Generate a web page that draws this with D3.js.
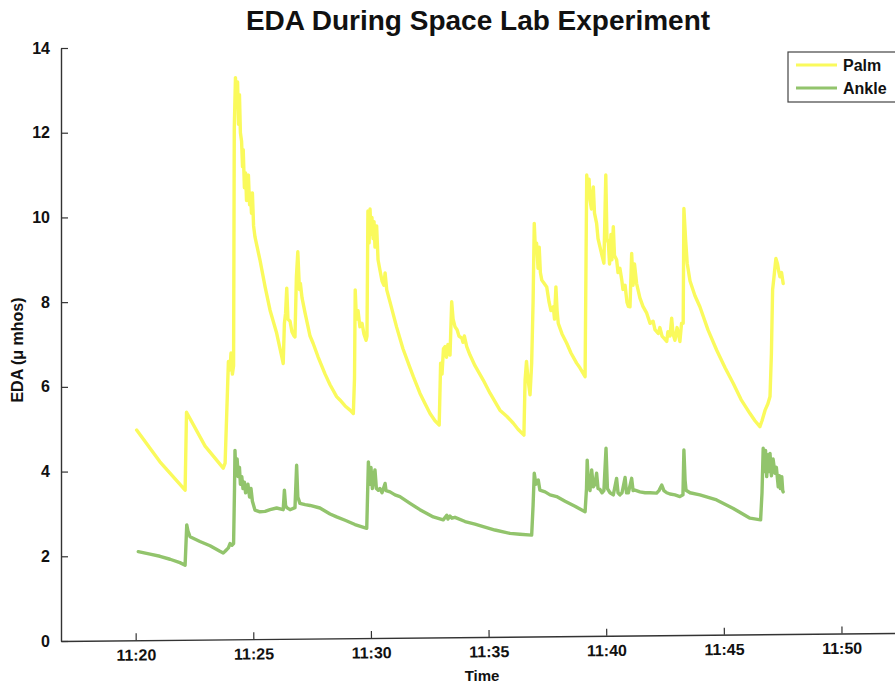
<!DOCTYPE html>
<html>
<head>
<meta charset="utf-8">
<script src="https://cdn.jsdelivr.net/npm/d3@7"></script>
<style>
  html, body { margin: 0; padding: 0; background: #fff; }
  svg { display: block; font-family: "Liberation Sans", Arial, Helvetica, sans-serif; }
</style>
</head>
<body>
<svg id="chart" width="895" height="686"></svg>
<script>
// ---- Data (time in minutes after 11:00, EDA in micro-mhos) ----
const titleText = "EDA During Space Lab Experiment";
const xLabel = "Time";
const yLabel = "EDA (\u03bc mhos)";
const seriesNames = ["Palm", "Ankle"];
const seriesColors = ["#fafa5c", "#92c46c"];
const yTicks = [0, 2, 4, 6, 8, 10, 12, 14];
const xTickMinutes = [20, 25, 30, 35, 40, 45, 50];

const palm = [
[20.04,4.98],[21.03,4.23],[22.10,3.56],[22.16,5.40],[22.95,4.6],[23.72,4.08],[23.80,4.2],[23.90,5.9],[23.94,6.6],[24.01,6.4],[24.05,6.8],[24.11,6.3],[24.16,6.5],[24.19,12.1],[24.24,13.3],[24.28,12.6],[24.33,13.2],[24.37,12.2],[24.41,12.9],[24.45,12.0],[24.50,11.8],[24.54,11.2],[24.57,11.6],[24.62,10.7],[24.67,11.05],[24.71,10.4],[24.75,10.8],[24.79,11.0],[24.84,10.3],[24.88,10.58],[24.92,10.1],[24.96,10.58],[25.01,9.8],[25.07,9.54],[25.28,9.0],[25.50,8.36],[25.71,7.81],[25.99,7.27],[26.21,6.71],[26.27,6.55],[26.32,7.5],[26.37,7.74],[26.42,8.33],[26.47,7.6],[26.56,7.55],[26.64,7.3],[26.73,7.2],[26.77,7.18],[26.83,8.6],[26.89,9.19],[26.92,8.8],[26.96,8.3],[27.00,8.44],[27.07,8.1],[27.20,7.74],[27.41,7.2],[27.54,7.03],[27.75,6.71],[28.05,6.3],[28.26,6.05],[28.54,5.77],[28.68,5.69],[28.90,5.55],[29.11,5.45],[29.25,5.37],[29.30,6.2],[29.33,8.29],[29.38,7.6],[29.45,7.8],[29.53,7.42],[29.62,7.5],[29.70,7.25],[29.79,7.1],[29.83,7.2],[29.87,10.15],[29.92,9.4],[29.96,10.2],[30.00,9.6],[30.04,10.0],[30.09,9.5],[30.13,9.9],[30.17,9.3],[30.24,9.8],[30.30,9.0],[30.38,8.76],[30.47,8.5],[30.55,8.4],[30.60,8.69],[30.67,8.29],[30.81,8.0],[31.09,7.41],[31.36,6.9],[31.66,6.45],[31.80,6.24],[32.08,5.85],[32.30,5.6],[32.51,5.37],[32.72,5.2],[32.90,5.10],[32.96,6.56],[33.02,6.3],[33.08,6.9],[33.15,6.95],[33.21,6.7],[33.27,7.0],[33.36,6.75],[33.43,8.01],[33.49,7.6],[33.57,7.42],[33.66,7.35],[33.74,7.2],[33.86,7.15],[33.91,7.05],[33.97,7.2],[34.07,6.95],[34.21,6.75],[34.42,6.5],[34.77,6.16],[35.06,5.85],[35.48,5.45],[35.78,5.3],[36.05,5.14],[36.25,5.0],[36.50,4.86],[36.55,6.16],[36.61,6.6],[36.67,6.2],[36.76,5.81],[36.83,6.56],[36.89,8.0],[36.94,9.86],[36.99,9.2],[37.04,9.39],[37.10,8.8],[37.15,9.3],[37.20,8.7],[37.26,8.52],[37.35,8.45],[37.47,8.36],[37.57,8.0],[37.65,7.8],[37.75,7.89],[37.80,7.6],[37.86,8.36],[37.91,7.8],[37.96,7.5],[38.12,7.25],[38.32,7.03],[38.50,6.8],[38.74,6.56],[38.88,6.45],[39.10,6.24],[39.17,11.0],[39.22,10.6],[39.27,10.9],[39.31,10.41],[39.37,10.2],[39.45,10.72],[39.50,10.1],[39.59,9.86],[39.65,9.5],[39.73,9.31],[39.82,9.1],[39.90,8.92],[39.98,11.0],[40.03,9.5],[40.09,9.39],[40.14,8.9],[40.20,9.6],[40.24,9.0],[40.30,9.78],[40.35,9.1],[40.44,9.0],[40.50,8.7],[40.58,8.8],[40.66,8.52],[40.71,8.3],[40.80,8.4],[40.88,8.0],[40.94,7.9],[41.01,7.89],[41.08,9.15],[41.14,8.4],[41.20,8.9],[41.29,8.44],[41.43,8.1],[41.56,7.9],[41.72,7.74],[41.86,7.5],[41.99,7.55],[42.07,7.35],[42.21,7.26],[42.28,7.4],[42.37,7.2],[42.45,7.15],[42.57,7.07],[42.62,7.3],[42.71,7.2],[42.78,7.62],[42.84,7.25],[42.92,7.1],[43.01,7.4],[43.13,7.07],[43.20,7.5],[43.27,7.5],[43.30,10.21],[43.37,9.5],[43.44,8.92],[43.56,8.5],[43.77,8.15],[43.98,7.89],[44.32,7.35],[44.69,6.87],[45.05,6.45],[45.40,6.08],[45.73,5.7],[46.11,5.37],[46.32,5.2],[46.53,5.06],[46.62,5.2],[46.75,5.45],[46.87,5.6],[46.96,5.77],[47.02,6.8],[47.07,8.29],[47.13,8.6],[47.21,9.03],[47.28,8.9],[47.34,8.7],[47.38,8.6],[47.45,8.7],[47.52,8.44]
];

const ankle = [
[20.11,2.11],[20.61,2.05],[21.03,2.00],[21.46,1.93],[21.88,1.85],[22.10,1.79],[22.17,2.74],[22.22,2.6],[22.31,2.46],[22.73,2.35],[23.16,2.25],[23.58,2.12],[23.72,2.08],[23.80,2.12],[23.94,2.2],[24.01,2.3],[24.09,2.26],[24.16,2.3],[24.20,3.6],[24.22,4.5],[24.26,3.9],[24.31,4.3],[24.36,3.88],[24.41,4.1],[24.45,3.7],[24.51,3.88],[24.56,3.6],[24.62,3.75],[24.67,3.5],[24.72,3.56],[24.77,3.7],[24.84,3.4],[24.90,3.6],[24.96,3.3],[25.07,3.09],[25.28,3.05],[25.50,3.06],[25.71,3.1],[25.99,3.14],[26.27,3.1],[26.32,3.56],[26.37,3.2],[26.42,3.15],[26.56,3.1],[26.77,3.15],[26.84,4.15],[26.89,3.4],[26.98,3.25],[27.20,3.22],[27.41,3.2],[27.83,3.14],[28.26,3.0],[28.54,2.93],[28.90,2.85],[29.32,2.75],[29.82,2.66],[29.89,4.23],[29.94,3.7],[30.00,4.1],[30.06,3.6],[30.13,3.9],[30.17,4.04],[30.23,3.6],[30.31,3.56],[30.38,3.6],[30.47,3.5],[30.60,3.72],[30.64,3.55],[30.81,3.52],[31.02,3.45],[31.23,3.41],[31.66,3.25],[32.08,3.1],[32.65,2.93],[33.07,2.86],[33.22,2.97],[33.27,2.88],[33.36,2.95],[33.44,2.9],[33.57,2.92],[34.00,2.82],[34.42,2.76],[34.77,2.70],[35.27,2.62],[35.91,2.54],[36.33,2.52],[36.83,2.50],[36.89,3.2],[36.94,3.96],[37.01,3.7],[37.11,3.8],[37.18,3.56],[37.40,3.52],[37.61,3.45],[37.89,3.41],[38.25,3.3],[38.67,3.18],[39.10,3.05],[39.16,3.6],[39.19,4.27],[39.24,3.7],[39.31,3.55],[39.38,4.04],[39.45,3.64],[39.52,3.7],[39.59,3.96],[39.65,3.6],[39.73,3.58],[39.82,3.5],[39.90,3.55],[39.99,4.55],[40.05,3.6],[40.16,3.5],[40.30,3.45],[40.44,3.84],[40.50,3.5],[40.58,3.45],[40.67,3.5],[40.80,3.86],[40.86,3.5],[40.94,3.5],[41.08,3.84],[41.14,3.55],[41.22,3.56],[41.43,3.52],[41.65,3.5],[41.86,3.5],[42.14,3.49],[42.24,3.55],[42.36,3.68],[42.45,3.55],[42.57,3.5],[42.71,3.47],[42.92,3.45],[43.13,3.41],[43.26,3.45],[43.30,4.51],[43.35,3.8],[43.39,3.56],[43.56,3.5],[43.98,3.45],[44.69,3.33],[45.40,3.13],[46.11,2.90],[46.56,2.86],[46.62,3.5],[46.67,4.55],[46.72,4.0],[46.77,4.5],[46.82,3.88],[46.87,4.4],[46.92,4.0],[46.96,4.43],[47.02,3.9],[47.09,4.3],[47.17,3.96],[47.23,4.1],[47.31,3.64],[47.36,3.9],[47.40,3.6],[47.46,3.88],[47.50,3.55],[47.52,3.52]
];

// ---- Rendering ----
const svg = d3.select("#chart");
const base = new Date(2000, 0, 1, 11, 0, 0);
const toDate = m => new Date(base.getTime() + m * 60000);

const plot = { left: 61, right: 930, top: 48, bottom: 641 };
const x = d3.scaleTime()
  .domain([toDate(16.825), toDate(53.76)])
  .range([plot.left, plot.right]);
const y = d3.scaleLinear().domain([0, 14]).range([plot.bottom, plot.top]);

const axisColor = "#333";
const fontStack = '"Liberation Sans", Arial, Helvetica, sans-serif';

// Lines
const line = d3.line()
  .x(d => x(toDate(d[0])))
  .y(d => y(d[1]))
  .curve(d3.curveLinear);

[palm, ankle].forEach((series, i) => {
  svg.append("path")
    .datum(series)
    .attr("fill", "none")
    .attr("stroke", seriesColors[i])
    .attr("stroke-width", 3.4)
    .attr("stroke-linejoin", "round")
    .attr("stroke-linecap", "round")
    .attr("d", line);
});

// X axis (the scanned original is slightly tilted)
const xAxis = d3.axisBottom(x)
  .tickValues(xTickMinutes.map(toDate))
  .tickFormat(d3.timeFormat("%H:%M"))
  .tickSizeInner(-7)
  .tickSizeOuter(0)
  .tickPadding(9);
const gx = svg.append("g")
  .attr("transform", `rotate(-0.55,${plot.left},${plot.bottom}) translate(0,${plot.bottom})`)
  .call(xAxis);
gx.select(".domain").attr("stroke", axisColor).attr("stroke-width", 1.4);
gx.selectAll(".tick line").attr("stroke", axisColor).attr("stroke-width", 1.2);
gx.selectAll(".tick text")
  .attr("fill", "#111")
  .style("font-family", fontStack)
  .style("font-size", "16px")
  .style("font-weight", "bold");

// Y axis
const yAxis = d3.axisLeft(y)
  .tickValues(yTicks)
  .tickFormat(d3.format("d"))
  .tickSizeInner(-7)
  .tickSizeOuter(0)
  .tickPadding(11);
const gy = svg.append("g").attr("transform", `translate(${plot.left},0)`).call(yAxis);
gy.select(".domain").attr("stroke", axisColor).attr("stroke-width", 1.4);
gy.selectAll(".tick line").attr("stroke", axisColor).attr("stroke-width", 1.2);
gy.selectAll(".tick text")
  .attr("fill", "#111")
  .style("font-family", fontStack)
  .style("font-size", "16px")
  .style("font-weight", "bold");

// Title
svg.append("text")
  .attr("x", 478).attr("y", 30)
  .attr("text-anchor", "middle")
  .style("font-family", fontStack)
  .style("font-size", "28px")
  .style("font-weight", "bold")
  .attr("fill", "#111")
  .text(titleText);

// Axis labels
svg.append("text")
  .attr("x", 482).attr("y", 681)
  .attr("text-anchor", "middle")
  .style("font-family", fontStack)
  .style("font-size", "15px")
  .style("font-weight", "bold")
  .attr("fill", "#111")
  .text(xLabel);

svg.append("text")
  .attr("transform", "translate(23,350) rotate(-90)")
  .attr("text-anchor", "middle")
  .style("font-family", fontStack)
  .style("font-size", "16px")
  .style("font-weight", "bold")
  .attr("fill", "#111")
  .text(yLabel);

// Legend
const lg = svg.append("g").attr("transform", "translate(788,52)");
lg.append("rect")
  .attr("x", 0).attr("y", 0).attr("width", 130).attr("height", 50)
  .attr("fill", "#fff").attr("stroke", "#444").attr("stroke-width", 1.2);
seriesNames.forEach((name, i) => {
  const yy = 13 + i * 23;
  lg.append("line")
    .attr("x1", 8).attr("x2", 49).attr("y1", yy).attr("y2", yy)
    .attr("stroke", seriesColors[i]).attr("stroke-width", 3);
  lg.append("text")
    .attr("x", 55).attr("y", yy + 6)
    .style("font-family", fontStack)
    .style("font-size", "16px")
    .style("font-weight", "bold")
    .attr("fill", "#111")
    .text(name);
});
</script>
</body>
</html>
